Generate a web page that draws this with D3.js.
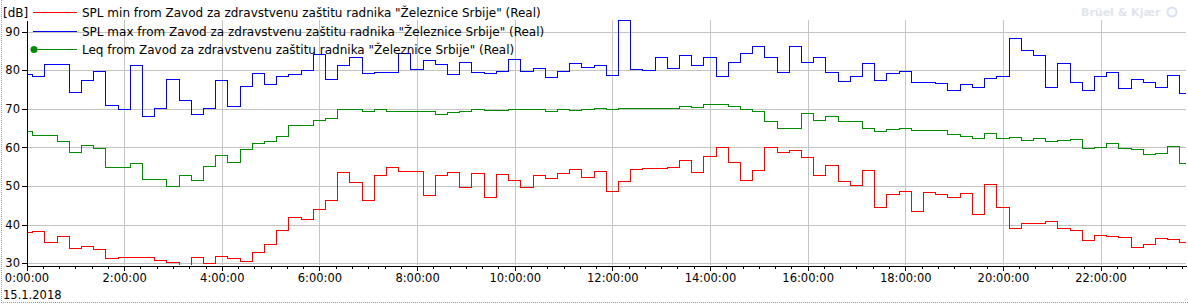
<!DOCTYPE html>
<html lang="en">
<head>
<meta charset="utf-8">
<script src="https://cdn.jsdelivr.net/npm/d3@7"></script>
<style type="text/css">
body { margin: 0; background: #fff; }
svg text { font-family: "DejaVu Sans", sans-serif; font-size: 11.5px; fill: #000; }
.grid line { stroke: #c4c4c4; stroke-width: 1; shape-rendering: crispEdges; }
.axis path, .axis line { stroke: #000; shape-rendering: crispEdges; }
.series { fill: none; stroke-width: 1; shape-rendering: crispEdges; }
.legend text { font-size: 12px; }
.legend line { stroke-width: 1; shape-rendering: crispEdges; }
</style>
</head>
<body>
<script type="text/javascript">

var width = 1188, height = 305;

// measurement start and interval (one value every 15 minutes)
var startTime = new Date(2018, 0, 15, 0, 0, 0);
var stepMinutes = 15;

var splMin = [38.0, 38.3, 35.4, 37.0, 33.9, 34.4, 33.6, 31.3, 31.5, 31.5, 31.4, 30.8,
  30.3, 29.0, 31.5, 30.0, 31.7, 31.3, 30.4, 32.8, 34.9, 38.6, 41.9, 41.4,
  44.0, 46.3, 53.4, 50.9, 46.3, 52.8, 54.7, 53.8, 53.8, 47.6, 52.8, 53.6,
  49.7, 53.3, 47.1, 53.0, 51.5, 49.7, 52.8, 52.0, 53.3, 54.3, 52.3, 53.8,
  48.7, 51.2, 54.3, 54.6, 54.6, 54.8, 56.7, 53.4, 57.7, 60.0, 56.1, 51.5,
  54.1, 60.0, 58.7, 59.2, 57.4, 52.8, 55.4, 51.2, 50.2, 54.1, 44.5, 47.9,
  48.7, 43.3, 48.4, 47.9, 47.1, 48.2, 42.7, 50.5, 44.5, 39.0, 40.3, 40.3,
  40.9, 39.1, 38.4, 35.8, 37.3, 36.9, 36.6, 34.2, 34.8, 36.3, 36.1, 35.3];

var splMax = [78.8, 78.4, 81.6, 81.6, 74.1, 77.4, 79.7, 70.9, 69.9, 81.1, 68.1, 70.2,
  77.7, 72.2, 68.4, 70.2, 77.4, 70.7, 75.9, 79.2, 76.4, 78.4, 79.0, 80.0,
  84.1, 77.7, 81.1, 83.4, 79.1, 79.3, 79.3, 84.4, 80.3, 82.6, 81.5, 79.0,
  82.1, 79.5, 79.2, 79.7, 82.8, 79.7, 80.5, 78.2, 79.7, 81.8, 80.8, 81.1,
  78.7, 93.0, 80.3, 80.0, 83.2, 80.5, 83.7, 81.1, 83.2, 78.4, 81.9, 84.3,
  86.1, 83.4, 79.5, 86.1, 82.1, 83.4, 79.5, 77.1, 78.4, 81.7, 77.4, 79.2,
  79.7, 76.9, 76.9, 76.6, 74.8, 76.3, 75.6, 77.9, 78.4, 88.1, 85.2, 83.9,
  75.6, 81.8, 76.9, 74.8, 78.4, 79.5, 75.3, 77.7, 76.9, 75.6, 78.7, 74.0];

var leq = [64.1, 63.1, 63.1, 61.5, 58.7, 60.5, 59.7, 54.8, 54.8, 55.9, 51.6, 51.8,
  49.8, 52.8, 51.5, 55.1, 57.9, 56.1, 59.5, 61.0, 61.5, 62.8, 65.8, 65.8,
  67.0, 67.5, 69.7, 69.9, 69.2, 69.9, 69.2, 69.2, 69.2, 69.2, 68.4, 69.1,
  69.3, 69.7, 69.6, 69.6, 69.8, 69.8, 69.9, 69.3, 69.8, 69.6, 69.8, 70.0,
  69.7, 70.2, 70.0, 70.0, 70.2, 70.0, 70.7, 70.3, 71.0, 71.0, 70.6, 69.8,
  69.4, 66.7, 64.9, 64.9, 68.8, 67.0, 68.0, 66.7, 66.7, 64.9, 64.1, 64.6,
  64.9, 64.4, 64.4, 64.4, 63.3, 62.9, 62.3, 63.6, 62.3, 62.6, 61.8, 62.3,
  61.6, 61.8, 62.1, 59.7, 60.0, 61.0, 59.7, 59.5, 58.2, 58.5, 60.3, 55.9];

var seriesNames = [
  'SPL min from Zavod za zdravstvenu zaštitu radnika "Železnice Srbije" (Real)',
  'SPL max from Zavod za zdravstvenu zaštitu radnika "Železnice Srbije" (Real)',
  'Leq from Zavod za zdravstvenu zaštitu radnika "Železnice Srbije" (Real)'];
var seriesColors = ["#ff0000", "#0000ff", "#008c00"];
var seriesData = [splMin, splMax, leq];

var yTicks = [30, 40, 50, 60, 70, 80, 90];
var yUnit = "[dB]";
var dateLabel = "15.1.2018";

var times = splMin.map(function(d, i) { return d3.timeMinute.offset(startTime, i * stepMinutes); });

var x = d3.scaleTime()
  .domain([startTime, times[times.length - 1]])
  .range([26.5, 1186]);
var y = d3.scaleLinear()
  .domain([29.4, 93])
  .range([265.6, 20]);

var svg = d3.select("body").append("svg")
  .attr("width", width)
  .attr("height", height);

// faint frame of the window
svg.append("line").attr("x1", 1.5).attr("x2", 1.5).attr("y1", 0).attr("y2", 303)
  .attr("stroke", "#9a9a9a").attr("stroke-dasharray", "1,1");
svg.append("line").attr("x1", 1).attr("x2", width).attr("y1", 302.5).attr("y2", 302.5)
  .attr("stroke", "#9a9a9a").attr("stroke-dasharray", "1,1");

// watermark
svg.append("text").attr("x", 1081).attr("y", 16)
  .style("font-weight", "bold").style("font-size", "11px").style("fill", "#dfe4ea")
  .text("Brüel & Kjær");
svg.append("circle").attr("cx", 1172).attr("cy", 12).attr("r", 4.5)
  .attr("fill", "none").attr("stroke", "#d6e2f2").attr("stroke-width", 2);

// grid
var grid = svg.append("g").attr("class", "grid");
grid.selectAll(".h").data(yTicks).enter().append("line")
  .attr("x1", 27).attr("x2", 1186)
  .attr("y1", function(d) { return Math.round(y(d)) + 0.5; })
  .attr("y2", function(d) { return Math.round(y(d)) + 0.5; });
grid.selectAll(".v").data(x.ticks(d3.timeHour.every(2)).filter(function(d) { return +d > +startTime; }))
  .enter().append("line")
  .attr("x1", function(d) { return Math.round(x(d)) + 0.5; })
  .attr("x2", function(d) { return Math.round(x(d)) + 0.5; })
  .attr("y1", 20).attr("y2", 265);

// series
svg.append("clipPath").attr("id", "plot")
  .append("rect").attr("x", 27).attr("y", 19).attr("width", 1160).attr("height", 246);

var line = d3.line()
  .x(function(d, i) { return x(times[i]); })
  .y(function(d) { return y(d); })
  .curve(d3.curveStep);

svg.append("g").attr("clip-path", "url(#plot)")
  .selectAll("path").data(seriesData).enter().append("path")
  .attr("class", "series")
  .attr("stroke", function(d, i) { return seriesColors[i]; })
  .attr("d", line);

// axes
svg.append("g").attr("class", "axis")
  .attr("transform", "translate(26.5,0)")
  .call(d3.axisLeft(y).tickValues(yTicks).tickSize(5).tickSizeOuter(0).tickPadding(1.5));

svg.append("g").attr("class", "axis")
  .attr("transform", "translate(0,265.5)")
  .call(d3.axisBottom(x).ticks(d3.timeMinute.every(20)).tickSize(3).tickSizeOuter(0).tickFormat(""));

svg.append("g").attr("class", "axis")
  .attr("transform", "translate(0,265.5)")
  .call(d3.axisBottom(x).ticks(d3.timeHour.every(2)).tickSize(5).tickSizeOuter(0).tickPadding(3.5)
    .tickFormat(d3.timeFormat("%-H:%M:%S")));

svg.selectAll(".axis text").style("font-family", "DejaVu Sans, sans-serif").style("font-size", "11.5px").attr("fill", "#000");

svg.append("text").attr("x", 3).attr("y", 299).text(dateLabel);
svg.append("text").attr("x", 3).attr("y", 17).style("font-size", "12px").text(yUnit);

// legend
var legend = svg.selectAll(".legend").data(seriesNames).enter().append("g")
  .attr("class", "legend")
  .attr("transform", function(d, i) { return "translate(0," + (12.5 + i * 18.5) + ")"; });
legend.append("line").attr("x1", 33).attr("x2", 77)
  .attr("stroke", function(d, i) { return seriesColors[i]; });
legend.filter(function(d, i) { return i === 2; }).append("circle")
  .attr("cx", 34).attr("cy", 0).attr("r", 3.5).attr("fill", seriesColors[2]);
legend.append("text").attr("x", 82).attr("y", 4.5).text(function(d) { return d; });

</script>
</body>
</html>
